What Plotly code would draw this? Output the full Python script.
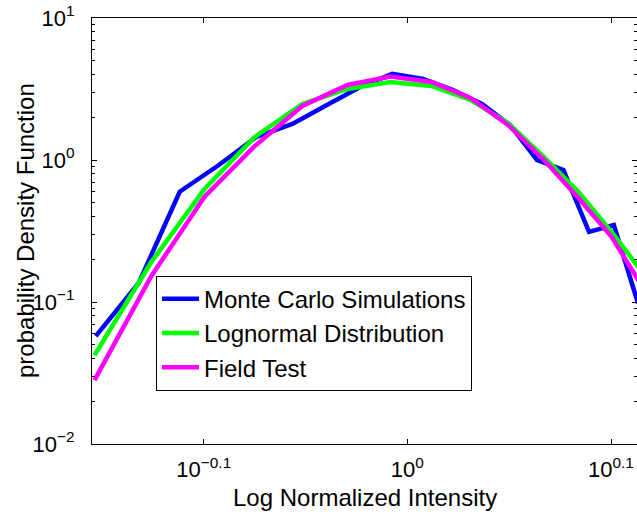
import plotly.graph_objects as go
import math

# ---- data ----
mc_x = [0.703, 0.738, 0.773, 0.808, 0.843, 0.878, 0.913, 0.948, 0.983, 1.018,
        1.053, 1.088, 1.123, 1.158, 1.193, 1.228, 1.263, 1.298]
mc_y = [0.0575, 0.136, 0.598, 0.922, 1.452, 1.794, 2.441, 3.269, 4.037, 3.723,
        3.113, 2.481, 1.765, 1.0, 0.850, 0.312, 0.348, 0.098]

ft_x = [0.702, 0.7485, 0.795, 0.8415, 0.888, 0.9345, 0.981, 1.0275, 1.074,
        1.1205, 1.167, 1.2135, 1.26, 1.3065]
logn_y = [0.0422, 0.191, 0.625, 1.452, 2.481, 3.164, 3.545, 3.323, 2.648,
          1.823, 1.050, 0.595, 0.311, 0.157]
field_y = [0.0282, 0.152, 0.551, 1.255, 2.402, 3.377, 3.877, 3.545, 2.735,
           1.765, 1.0, 0.540, 0.287, 0.123]

series_names = ["Monte Carlo Simulations", "Lognormal Distribution", "Field Test"]
series_colors = ["#0000FF", "#00FF00", "#FF00FF"]

x_tick_exp = [-0.1, 0, 0.1]
x_tick_text = ["10<sup>\u22120.1</sup>", "10<sup>0</sup>", "10<sup>0.1</sup>"]
y_tick_vals = [0.01, 0.1, 1, 10]
y_tick_text = ["10<sup>\u22122</sup>", "10<sup>\u22121</sup>", "10<sup>0</sup>", "10<sup>1</sup>"]

x_label = "Log Normalized Intensity"
y_label = "probability Density Function"

FONT = "Liberation Sans, Arial, Helvetica, sans-serif"

fig = go.Figure()
fig.add_trace(go.Scatter(x=mc_x, y=mc_y, mode="lines", name=series_names[0],
                         line=dict(color=series_colors[0], width=4.5)))
fig.add_trace(go.Scatter(x=ft_x, y=logn_y, mode="lines", name=series_names[1],
                         line=dict(color=series_colors[1], width=4.5)))
fig.add_trace(go.Scatter(x=ft_x, y=field_y, mode="lines", name=series_names[2],
                         line=dict(color=series_colors[2], width=4.5)))

minor_y = [m * 10 ** k for k in (-2, -1, 0) for m in range(2, 10)]

fig.update_layout(
    width=637, height=514,
    margin=dict(l=92, r=0, t=18, b=70, autoexpand=False),
    paper_bgcolor="white", plot_bgcolor="white",
    font=dict(family=FONT, size=22, color="black"),
    showlegend=True,
    legend=dict(x=0.1174, y=0.395, xanchor="left", yanchor="top",
                bgcolor="white", bordercolor="black", borderwidth=1,
                font=dict(size=24, family=FONT, color="black"),
                tracegroupgap=0, itemwidth=37),
    xaxis=dict(type="log", range=[math.log10(0.7), 0.11277],
               tickmode="array", tickvals=[10 ** e for e in x_tick_exp],
               ticktext=x_tick_text, ticks="inside", ticklen=5,
               tickcolor="black", showline=True, linecolor="black",
               linewidth=1, mirror="ticks", showgrid=False, zeroline=False,
               tickfont=dict(size=22), ticklabelstandoff=6, automargin=False,
               ticklabeloverflow="allow"),
    yaxis=dict(type="log", range=[-2, 1],
               tickmode="array", tickvals=y_tick_vals, ticktext=y_tick_text,
               ticks="inside", ticklen=5, tickcolor="black", showline=True,
               linecolor="black", linewidth=1, mirror="ticks",
               showgrid=False, zeroline=False, tickfont=dict(size=22),
               ticklabelstandoff=12, automargin=False,
               ticklabeloverflow="allow",
               minor=dict(tickmode="array", tickvals=minor_y, ticks="inside",
                          ticklen=3, tickcolor="black", showgrid=False)),
)

fig.add_annotation(text=x_label, xref="paper", yref="paper", x=0.5, y=0,
                   xanchor="center", yanchor="top", yshift=-38,
                   showarrow=False, font=dict(size=24, family=FONT))
fig.add_annotation(text=y_label, xref="paper", yref="paper", x=0, y=0.5,
                   xanchor="center", yanchor="middle", xshift=-67,
                   textangle=-90, showarrow=False,
                   font=dict(size=24, family=FONT))

fig.write_html("out.html",
               config={"displayModeBar": False},
               post_script="document.body.style.margin='0px';document.body.style.overflow='hidden';")
